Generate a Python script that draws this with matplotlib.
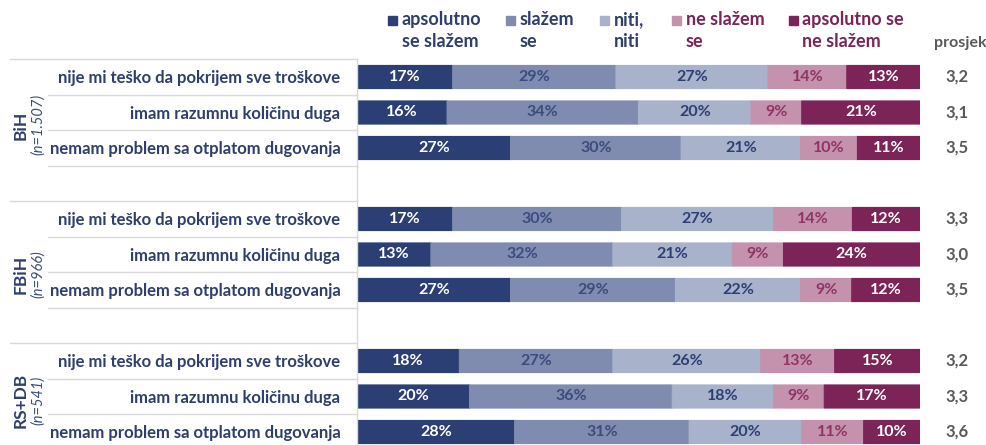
import numpy as np
import matplotlib.pyplot as plt
from matplotlib.patches import Rectangle

# kategorije odgovora (legenda)
kategorije = ["apsolutno\nse slažem", "slažem\nse", "niti,\nniti", "ne slažem\nse", "apsolutno se\nne slažem"]
pitanja = ["nije mi teško da pokrijem sve troškove",
           "imam razumnu količinu duga",
           "nemam problem sa otplatom dugovanja"]
grupe = ["BiH", "FBiH", "RS+DB"]
uzorci = ["(n=1.507)", "(n=966)", "(n=541)"]

# postoci po pitanju
bih = [[17, 29, 27, 14, 13],
       [16, 34, 20, 9, 21],
       [27, 30, 21, 10, 11]]
fbih = [[17, 30, 27, 14, 12],
        [13, 32, 21, 9, 24],
        [27, 29, 22, 9, 12]]
rsdb = [[18, 27, 26, 13, 15],
        [20, 36, 18, 9, 17],
        [28, 31, 20, 11, 10]]
prosjek_bih = [3.2, 3.1, 3.5]
prosjek_fbih = [3.3, 3.0, 3.5]
prosjek_rsdb = [3.2, 3.3, 3.6]

boje = ["#2B3F74", "#7F8CAF", "#A9B2CB", "#C592AD", "#7C2357"]
boje_teksta = ["white", "#3B4B7F", "#2B3F74", "#8E3565", "white"]
tamna = "#2E3F6E"
siva = "#595959"
linija = "#D9D9D9"
font = "Lato"

W, H = 987, 445
fig = plt.figure(figsize=(W / 100, H / 100), dpi=100)
ax_l, ax_r, ax_top, y0, dy = 357, 920, 59, 77, 35.5
ax = fig.add_axes([ax_l / W, 0, (ax_r - ax_l) / W, (H - ax_top) / H])


def px2ax(px):
    return (px - ax_l) / (ax_r - ax_l)


podaci = np.array([bih, fbih, rsdb], dtype=float)
prosjeci = [prosjek_bih, prosjek_fbih, prosjek_rsdb]

y_pos = []
oznake = []
for g in range(len(grupe)):
    for r in range(len(pitanja)):
        y_pos.append(g * 4 + r)
        oznake.append(pitanja[r])
y_pos = np.array(y_pos)

vrijednosti = podaci.reshape(-1, len(kategorije))
udjeli = vrijednosti / vrijednosti.sum(axis=1, keepdims=True)
lijevo = np.zeros(len(y_pos))
for k in range(len(kategorije)):
    ax.barh(y_pos, udjeli[:, k], left=lijevo, height=0.65, color=boje[k],
            edgecolor=boje[k], linewidth=0.8, snap=False)
    for y, l, w, v in zip(y_pos, lijevo, udjeli[:, k], vrijednosti[:, k]):
        ax.text(l + w / 2, y, f"{v:.0f}%", ha="center", va="center", fontsize=11.5,
                fontweight="bold", color=boje_teksta[k], family=font)
    lijevo += udjeli[:, k]

ax.set_xlim(0, 1)
ax.set_ylim((H - y0) / dy, (ax_top - y0) / dy)
ax.set_xticks([])
ax.set_yticks(y_pos)
ax.set_yticklabels(oznake, fontsize=12, fontweight="bold", color=tamna, family=font)
ax.tick_params(axis="y", length=0, pad=12)
for s in ["top", "right", "bottom"]:
    ax.spines[s].set_visible(False)
ax.spines["left"].set_color(linija)
ax.spines["left"].set_linewidth(1)

# linije tablice lijevo
tr = ax.get_yaxis_transform()
for g in range(len(grupe)):
    ax.plot([px2ax(10), 0], [g * 4 - 0.5] * 2, color=linija, lw=1, transform=tr, clip_on=False)
    for r in range(len(pitanja)):
        ax.plot([px2ax(48), 0], [g * 4 + r + 0.5] * 2, color=linija, lw=1, transform=tr, clip_on=False)

# nazivi grupa
centri = [1.35, 5.55, 9.1]
for g in range(len(grupe)):
    ax.text(px2ax(21), centri[g], grupe[g], rotation=90, ha="center", va="center", fontsize=12.5,
            fontweight="bold", color=tamna, family=font, transform=tr)
    ax.text(px2ax(38), centri[g], uzorci[g], rotation=90, ha="center", va="center", fontsize=10.5,
            style="italic", color="#3B4C7C", family=font, transform=tr)

# prosjek
for g in range(len(grupe)):
    for r in range(len(pitanja)):
        ax.text(px2ax(957), g * 4 + r, f"{prosjeci[g][r]:.1f}".replace(".", ","), ha="center",
                va="center", fontsize=12, fontweight="bold", color=siva, family=font, transform=tr)
fig.text(960 / W, 1 - 43 / H, "prosjek", ha="center", va="center", fontsize=11.5,
         fontweight="bold", color=siva, family=font)

# legenda
leg_x = [393, 511, 605, 677, 793]
boje_leg = [tamna, tamna, tamna, "#7C2357", "#7C2357"]
for k in range(len(kategorije)):
    fig.patches.append(Rectangle(((leg_x[k] - 4.5) / W, 1 - 25 / H), 9 / W, 9 / H,
                                 color=boje[k], transform=fig.transFigure))
    for i, red in enumerate(kategorije[k].split("\n")):
        fig.text((leg_x[k] + 9) / W, 1 - (25 + 22 * i) / H, red, ha="left", va="baseline",
                 fontsize=13, fontweight="bold", color=boje_leg[k], family=font)

fig.savefig("out.png", dpi=100)
